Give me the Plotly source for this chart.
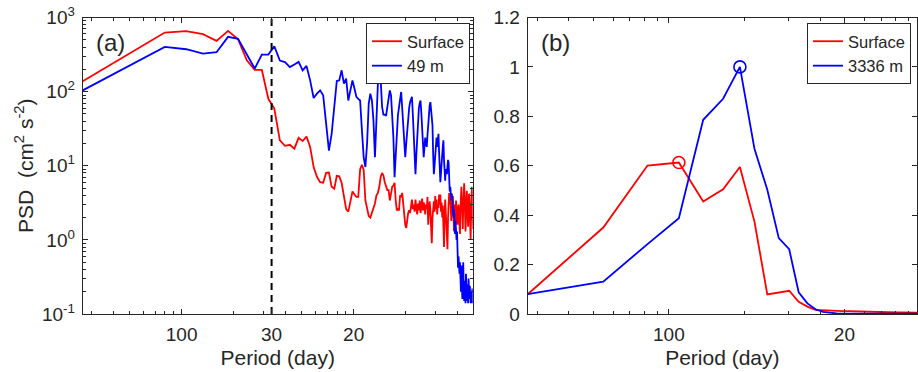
import numpy as np
import plotly.graph_objects as go

# ---------------- data ----------------
# Panel (a): PSD at frequencies k / record_days_a (cpd), k = 1..188
record_days_a = 376
psd_surface = [
    138, 358, 627, 653, 596, 484, 660, 509, 265, 196,
    196, 80, 59, 22, 18.6, 19.2, 17.0, 23.8, 21.5, 24.8,
    17.9, 9.6, 7.1, 6.0, 5.9, 8.0, 8.1, 5.2, 4.9, 7.3,
    7.2, 5.9, 3.8, 2.6, 2.4, 3.2, 4.5, 4.1, 3.8, 3.8,
    9.0, 10.3, 8.8, 3.4, 2.5, 2.1, 2.0, 2.3, 2.7, 3.1,
    4.0, 4.3, 5.2, 7.1, 8.0, 7.4, 6.0, 5.2, 4.7, 4.7,
    3.4, 4.2, 5.2, 5.4, 5.9, 3.4, 2.5, 2.6, 2.5, 4.0,
    3.8, 4.3, 2.8, 1.8, 1.6, 1.45, 2.0, 2.3, 2.5, 2.3,
    2.8, 3.5, 2.6, 3.0, 2.4, 3.5, 2.7, 2.2, 3.1, 2.5,
    3.4, 2.3, 2.8, 3.6, 2.5, 3.2, 2.9, 2.2, 3.0, 2.6,
    3.8, 1.6, 2.4, 3.3, 2.5, 1.2, 0.9, 2.0, 2.8, 3.3,
    2.4, 3.9, 2.6, 3.5, 2.2, 3.0, 2.7, 4.1, 3.0, 4.1,
    2.4, 3.2, 2.0, 2.9, 1.5, 0.8, 2.2, 3.5, 2.4, 1.6,
    0.9, 0.75, 2.0, 3.2, 4.3, 3.0, 4.2, 2.6, 1.8, 3.3,
    2.5, 3.9, 2.2, 1.3, 3.0, 2.4, 1.6, 3.4, 2.8, 2.1,
    1.6, 2.5, 3.0, 2.2, 1.5, 1.2, 2.6, 4.5, 5.2, 3.4,
    2.0, 1.4, 2.8, 4.8, 5.8, 4.0, 2.2, 1.3, 1.8, 3.5,
    4.6, 3.0, 2.1, 1.5, 2.6, 4.2, 3.6, 2.4, 1.2, 1.0,
    2.0, 3.8, 5.2, 3.6, 1.9, 1.4, 2.8, 1.0,
]
psd_49m = [
    104, 244, 402, 373, 326, 340, 548, 515, 310, 205,
    316, 316, 409, 262, 250, 214, 232, 252, 194, 222,
    142, 82, 94, 104, 89, 41, 16, 27, 62, 139,
    142, 194, 128, 150, 76, 110, 142, 110, 85, 80,
    76, 30, 13, 9.6, 20, 69, 94, 76, 41, 13,
    41, 128, 161, 142, 62, 49, 49, 47, 62, 85,
    104, 89, 51, 24, 7.0, 14, 34, 48, 62, 85,
    99, 60, 38, 22, 13, 20, 32, 45, 60, 72,
    80, 85, 50, 22, 12, 7.7, 14, 28, 45, 60,
    70, 76, 52, 33, 20, 13, 18, 24, 20, 18,
    26, 40, 52, 65, 72, 60, 50, 35, 14, 7.7,
    10, 13, 20, 24, 18, 22, 27, 15, 9, 6.0,
    8, 9.6, 14, 18, 22, 12, 7.5, 6.3, 9, 8,
    7.7, 10, 12, 11, 6, 4.5, 5.2, 4.0, 3.4, 4.2,
    2.8, 2.4, 2.0, 2.6, 1.5, 1.2, 1.8, 1.4, 1.0, 1.3,
    0.7, 0.42, 0.6, 0.45, 0.35, 0.5, 0.3, 0.2, 0.45, 0.25,
    0.16, 0.3, 0.5, 0.22, 0.15, 0.28, 0.18, 0.14, 0.35, 0.2,
    0.15, 0.25, 0.18, 0.14, 0.3, 0.2, 0.16, 0.24, 0.15, 0.14,
    0.2, 0.17, 0.14, 0.22, 0.16, 0.14, 0.18, 0.15,
]
cutoff_period = 30
a_tick_freqs = [0.01, 1 / 30, 0.1]
a_tick_labels = ["100", "30", "20"]
a_ytick_vals = [0.1, 1, 10, 100, 1000]
a_ytick_labels = ["10<sup>-1</sup>", "10<sup>0</sup>", "10<sup>1</sup>",
                  "10<sup>2</sup>", "10<sup>3</sup>"]

# Panel (b): normalised spectra at frequencies k / record_days_b, k = 1..36
record_days_b = 365
norm_surface = [
    0.08, 0.35, 0.601, 0.613, 0.455, 0.505, 0.595, 0.374, 0.079, 0.088,
    0.094, 0.049, 0.03, 0.017, 0.015, 0.014, 0.013, 0.012, 0.012, 0.011,
    0.010, 0.010, 0.009, 0.009, 0.008, 0.008, 0.007, 0.007, 0.006, 0.006,
    0.006, 0.005, 0.005, 0.005, 0.005, 0.005,
]
norm_3336m = [
    0.08, 0.131, 0.283, 0.388, 0.786, 0.871, 1.0, 0.669, 0.503, 0.307,
    0.262, 0.088, 0.043, 0.019, 0.009, 0.004, 0.002, 0.001, 0.001, 0.001,
    0.001, 0.001, 0.001, 0.001, 0.001, 0.001, 0.001, 0.001, 0.001, 0.001,
    0.001, 0.001, 0.001, 0.001, 0.001, 0.001,
]
b_tick_freqs = [0.01, 0.05]
b_tick_labels = ["100", "20"]
b_ytick_vals = [0, 0.2, 0.4, 0.6, 0.8, 1.0, 1.2]
b_ytick_labels = ["0", "0.2", "0.4", "0.6", "0.8", "1", "1.2"]

# ---------------- figure ----------------
fa = np.arange(1, len(psd_surface) + 1) / record_days_a
fb = np.arange(1, len(norm_surface) + 1) / record_days_b

RED = "#ff0000"
BLUE = "#0000ff"
INK = "#262626"
FONT = "Liberation Sans, Arial, sans-serif"
W, H = 918, 372
TICK_SIZE = 19
TITLE_SIZE = 21

fig = go.Figure()
fig.add_trace(go.Scatter(x=fa, y=psd_surface, mode="lines", name="Surface",
                         line=dict(color=RED, width=1.8), legend="legend",
                         xaxis="x", yaxis="y"))
fig.add_trace(go.Scatter(x=fa, y=psd_49m, mode="lines", name="49 m",
                         line=dict(color=BLUE, width=1.8), legend="legend",
                         xaxis="x", yaxis="y"))
fig.add_trace(go.Scatter(x=[1 / cutoff_period, 1 / cutoff_period],
                         y=[a_ytick_vals[0], a_ytick_vals[-1]],
                         mode="lines", showlegend=False,
                         line=dict(color="black", width=2, dash="7px,5px"),
                         xaxis="x", yaxis="y"))

fig.add_trace(go.Scatter(x=fb, y=norm_surface, mode="lines", name="Surface",
                         line=dict(color=RED, width=1.8), legend="legend2",
                         xaxis="x2", yaxis="y2"))
fig.add_trace(go.Scatter(x=fb, y=norm_3336m, mode="lines", name="3336 m",
                         line=dict(color=BLUE, width=1.8), legend="legend2",
                         xaxis="x2", yaxis="y2"))
ir = int(np.argmax(norm_surface))
ib = int(np.argmax(norm_3336m))
fig.add_trace(go.Scatter(x=[fb[ir]], y=[norm_surface[ir]], mode="markers",
                         showlegend=False,
                         marker=dict(symbol="circle-open", size=12, color=RED,
                                     line=dict(width=1.6, color=RED)),
                         xaxis="x2", yaxis="y2"))
fig.add_trace(go.Scatter(x=[fb[ib]], y=[norm_3336m[ib]], mode="markers",
                         showlegend=False,
                         marker=dict(symbol="circle-open", size=12, color=BLUE,
                                     line=dict(width=1.6, color=BLUE)),
                         xaxis="x2", yaxis="y2"))

axis_common = dict(showline=True, linecolor=INK, linewidth=1, mirror="ticks",
                   ticks="inside", ticklen=5, tickcolor=INK, tickwidth=1,
                   showgrid=False, zeroline=False, automargin=False,
                   tickfont=dict(size=TICK_SIZE, color=INK, family=FONT))

a_minor_x = [0.003, 0.004, 0.005, 0.006, 0.007, 0.008, 0.009,
             0.02, 0.03, 0.04, 0.05, 0.06, 0.07, 0.08, 0.09, 0.2, 0.3, 0.4]
b_minor_x = [0.003, 0.004, 0.005, 0.006, 0.007, 0.008, 0.009,
             0.02, 0.03, 0.04, 0.06, 0.07, 0.08, 0.09]
a_minor_y = [m * d for d in (0.1, 1, 10, 100) for m in range(2, 10)]

minor_style = dict(ticks="inside", ticklen=3, tickcolor=INK, tickwidth=1,
                   tickmode="array", showgrid=False)

xa0, xa1 = 82.7 / W, 472.7 / W
xb0, xb1 = 527.7 / W, 917.0 / W
y0, y1 = 1 - 314 / H, 1 - 17.5 / H

fig.update_layout(
    width=W, height=H,
    margin=dict(l=0, r=0, t=0, b=0),
    paper_bgcolor="white", plot_bgcolor="white",
    font=dict(family=FONT, color=INK),
    xaxis=dict(axis_common, type="log", domain=[xa0, xa1],
               range=[np.log10(1 / record_days_a), np.log10(0.492)],
               tickmode="array", tickvals=a_tick_freqs, ticktext=a_tick_labels,
               minor=dict(minor_style, tickvals=a_minor_x),
               ticklabelstandoff=3,
               title=dict(text="Period (day)", standoff=6,
                          font=dict(size=TITLE_SIZE, color=INK, family=FONT)),
               anchor="y"),
    yaxis=dict(axis_common, type="log", domain=[y0, y1], range=[-1, 3],
               tickmode="array", tickvals=a_ytick_vals, ticktext=a_ytick_labels,
               minor=dict(minor_style, tickvals=a_minor_y),
               ticklabelstandoff=3,
               title=dict(text="PSD  (cm<sup>2</sup> s<sup>-2</sup>)", standoff=2,
                          font=dict(size=TITLE_SIZE, color=INK, family=FONT)),
               anchor="x"),
    xaxis2=dict(axis_common, type="log", domain=[xb0, xb1],
                range=[np.log10(1 / record_days_b), np.log10(0.0973)],
                tickmode="array", tickvals=b_tick_freqs, ticktext=b_tick_labels,
                minor=dict(minor_style, tickvals=b_minor_x),
                ticklabelstandoff=3,
                title=dict(text="Period (day)", standoff=6,
                           font=dict(size=TITLE_SIZE, color=INK, family=FONT)),
                anchor="y2"),
    yaxis2=dict(axis_common, domain=[y0, y1], range=[0, 1.2],
                tickmode="array", tickvals=b_ytick_vals, ticktext=b_ytick_labels,
                ticklabelstandoff=3,
                anchor="x2"),
    legend=dict(x=470 / W, y=1 - 23 / H, xanchor="right", yanchor="top",
                bgcolor="white", bordercolor=INK, borderwidth=1,
                font=dict(size=16.5, color=INK, family=FONT),
                tracegroupgap=0, itemwidth=30),
    legend2=dict(x=911 / W, y=1 - 23 / H, xanchor="right", yanchor="top",
                 bgcolor="white", bordercolor=INK, borderwidth=1,
                 font=dict(size=16.5, color=INK, family=FONT),
                 tracegroupgap=0, itemwidth=30),
    annotations=[
        dict(text="(a)", x=110 / W, y=1 - 42.7 / H, xref="paper", yref="paper",
             xanchor="center", yanchor="middle", showarrow=False,
             font=dict(size=24, color=INK, family=FONT)),
        dict(text="(b)", x=555.7 / W, y=1 - 42.7 / H, xref="paper", yref="paper",
             xanchor="center", yanchor="middle", showarrow=False,
             font=dict(size=24, color=INK, family=FONT)),
    ],
    showlegend=True,
)

fig.write_html("out.html")
